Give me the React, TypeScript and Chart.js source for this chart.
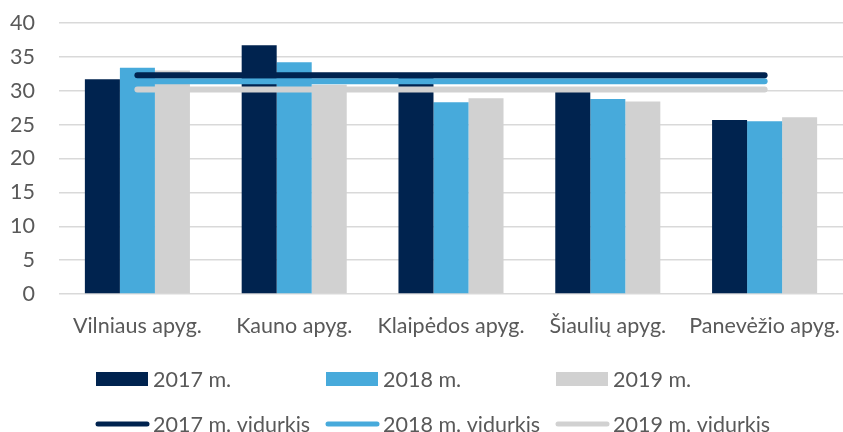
import React, { useEffect, useRef } from "react";
import { Chart, registerables } from "chart.js";

Chart.register(...registerables);

const categories = ["Vilniaus apyg.", "Kauno apyg.", "Klaipėdos apyg.", "Šiaulių apyg.", "Panevėžio apyg."];
const values2017 = [31.7, 36.7, 31.9, 29.8, 25.7];
const values2018 = [33.4, 34.2, 28.3, 28.8, 25.5];
const values2019 = [33.0, 30.9, 28.9, 28.4, 26.1];
const avg2017 = [32.3, 32.3, 32.3, 32.3, 32.3];
const avg2018 = [31.4, 31.4, 31.4, 31.4, 31.4];
const avg2019 = [30.2, 30.2, 30.2, 30.2, 30.2];
const yTicks = [0, 5, 10, 15, 20, 25, 30, 35, 40];

const C2017 = "#00234F";
const C2018 = "#47AADB";
const C2019 = "#D1D1D1";
const TEXT = "#595959";
const FONT = "Lato";
const FS = 21.5;

const legendPlugin = {
  id: "gridLegend",
  afterDraw(chart: any) {
    const ctx = chart.ctx;
    const ds = chart.data.datasets;
    const cols = [96, 326, 556];
    const rows = [379, 424];
    ctx.save();
    ctx.font = `${FS}px ${FONT}`;
    ctx.textBaseline = "middle";
    ctx.textAlign = "left";
    ds.forEach((d: any, i: number) => {
      const isLine = d.type === "line";
      const idx = isLine ? i : i - 3;
      const x = cols[idx];
      const y = isLine ? rows[1] : rows[0];
      if (isLine) {
        ctx.strokeStyle = d.borderColor;
        ctx.lineWidth = 5;
        ctx.lineCap = "round";
        ctx.beginPath();
        ctx.moveTo(x + 2, y);
        ctx.lineTo(x + 51, y);
        ctx.stroke();
      } else {
        ctx.fillStyle = d.backgroundColor;
        ctx.fillRect(x, y - 7, 52, 14);
      }
      ctx.fillStyle = TEXT;
      ctx.fillText(d.label, x + 57, y + 1);
    });
    ctx.restore();
  },
};

export default function App() {
  const ref = useRef<HTMLCanvasElement | null>(null);
  useEffect(() => {
    if (!ref.current) return;
    const chart = new Chart(ref.current, {
      type: "bar",
      data: {
        labels: categories,
        datasets: [
          { type: "line", label: "2017 m. vidurkis", data: avg2017, borderColor: C2017, backgroundColor: C2017, borderWidth: 6, borderCapStyle: "round", pointRadius: 0, order: 0 },
          { type: "line", label: "2018 m. vidurkis", data: avg2018, borderColor: C2018, backgroundColor: C2018, borderWidth: 6, borderCapStyle: "round", pointRadius: 0, order: 1 },
          { type: "line", label: "2019 m. vidurkis", data: avg2019, borderColor: C2019, backgroundColor: C2019, borderWidth: 6, borderCapStyle: "round", pointRadius: 0, order: 2 },
          { type: "bar", label: "2017 m.", data: values2017, backgroundColor: C2017, borderWidth: 0, order: 3 },
          { type: "bar", label: "2018 m.", data: values2018, backgroundColor: C2018, borderWidth: 0, order: 4 },
          { type: "bar", label: "2019 m.", data: values2019, backgroundColor: C2019, borderWidth: 0, order: 5 },
        ] as any,
      },
      options: {
        responsive: false,
        animation: false,
        datasets: { bar: { categoryPercentage: 0.67, barPercentage: 1.0 } },
        layout: { padding: { left: 0, right: 0, top: 23, bottom: 0 } },
        plugins: { legend: { display: false }, tooltip: { enabled: false } },
        scales: {
          x: {
            grid: { display: false, drawTicks: false },
            border: { display: false },
            ticks: { color: TEXT, font: { family: FONT, size: FS }, padding: 19, maxRotation: 0, autoSkip: false },
            afterFit: (axis: any) => {
              axis.height = 432 - 294;
              axis.paddingLeft = 0;
              axis.paddingRight = 0;
            },
          },
          y: {
            min: 0,
            max: 40,
            afterBuildTicks: (axis: any) => {
              axis.ticks = yTicks.map((v) => ({ value: v }));
            },
            grid: { color: "#D9D9D9", lineWidth: 1.5, drawTicks: false },
            border: { display: false },
            ticks: { color: TEXT, font: { family: FONT, size: FS }, padding: 24 },
            afterFit: (axis: any) => {
              axis.width = 59;
              axis.paddingTop = 0;
              axis.paddingBottom = 0;
            },
          },
        },
      } as any,
      plugins: [legendPlugin],
    });
    return () => chart.destroy();
  }, []);
  return (
    <div style={{ position: "fixed", left: 0, top: 0, width: 843, height: 432, background: "#fff" }}>
      <canvas ref={ref} width={843} height={432} style={{ display: "block" }} />
    </div>
  );
}
